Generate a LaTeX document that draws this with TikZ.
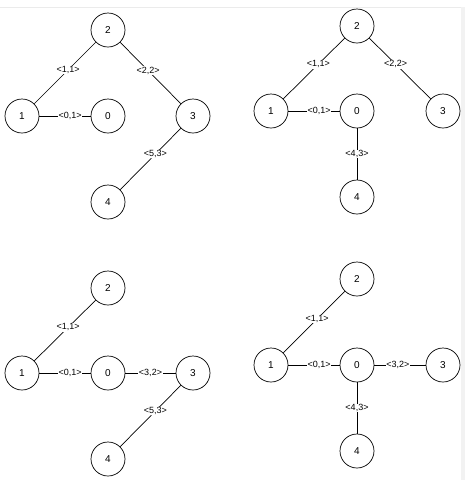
\documentclass[tikz,border=0pt]{standalone}
\usepackage{fontspec}
\setmainfont{Liberation Sans}

\tikzset{
  vert/.style={draw, circle, minimum size=34pt, inner sep=0pt, line width=0.7pt, font=\fontsize{10}{12}\selectfont},
  wt/.style={fill=white, inner sep=0.6pt, font=\fontsize{9}{10}\selectfont}
}

\begin{document}
\begin{tikzpicture}[x=1pt, y=-1pt, line width=0.7pt]
            \useasboundingbox (0,0) rectangle (465,480);
            \fill[white] (0,0) rectangle (465,480);
            \draw[black!8, line width=1pt] (0,7) -- (461,7);
            \fill[black!5] (461,7) rectangle (465,480);
            % top left
            \node[vert] (a2) at (108,30) {2};
            \node[vert] (a1) at (22,116) {1};
            \node[vert] (a0) at (108,116) {0};
            \node[vert] (a3) at (193,116) {3};
            \node[vert] (a4) at (108,202) {4};
            \draw (a2) -- node[wt, pos=0.45] {<1,1>} (a1);
            \draw (a2) -- node[wt, pos=0.46] {<2,2>} (a3);
            \draw (a1) -- node[wt, pos=0.6] {<0,1>} (a0);
            \draw (a3) -- node[wt, pos=0.42] {<5,3>} (a4);
            % top right
            \node[vert] (b2) at (357,26) {2};
            \node[vert] (b1) at (271,111) {1};
            \node[vert] (b0) at (357,111) {0};
            \node[vert] (b3) at (443,111) {3};
            \node[vert] (b4) at (357,197) {4};
            \draw (b2) -- node[wt, pos=0.43] {<1,1>} (b1);
            \draw (b2) -- node[wt, pos=0.43] {<2,2>} (b3);
            \draw (b1) -- node[wt, pos=0.6] {<0,1>} (b0);
            \draw (b0) -- node[wt] {<4,3>} (b4);
            % bottom left
            \node[vert] (c2) at (108,288) {2};
            \node[vert] (c1) at (22,373) {1};
            \node[vert] (c0) at (108,373) {0};
            \node[vert] (c3) at (193,373) {3};
            \node[vert] (c4) at (108,459) {4};
            \draw (c2) -- node[wt, pos=0.45] {<1,1>} (c1);
            \draw (c1) -- node[wt, pos=0.6] {<0,1>} (c0);
            \draw (c0) -- node[wt] {<3,2>} (c3);
            \draw (c3) -- node[wt, pos=0.42] {<5,3>} (c4);
            % bottom right
            \node[vert] (d2) at (357,279) {2};
            \node[vert] (d1) at (271,365) {1};
            \node[vert] (d0) at (357,365) {0};
            \node[vert] (d3) at (443,365) {3};
            \node[vert] (d4) at (357,451) {4};
            \draw (d2) -- node[wt, pos=0.45] {<1,1>} (d1);
            \draw (d1) -- node[wt, pos=0.6] {<0,1>} (d0);
            \draw (d0) -- node[wt, pos=0.46] {<3,2>} (d3);
            \draw (d0) -- node[wt] {<4,3>} (d4);
        \end{tikzpicture}
\end{document}
